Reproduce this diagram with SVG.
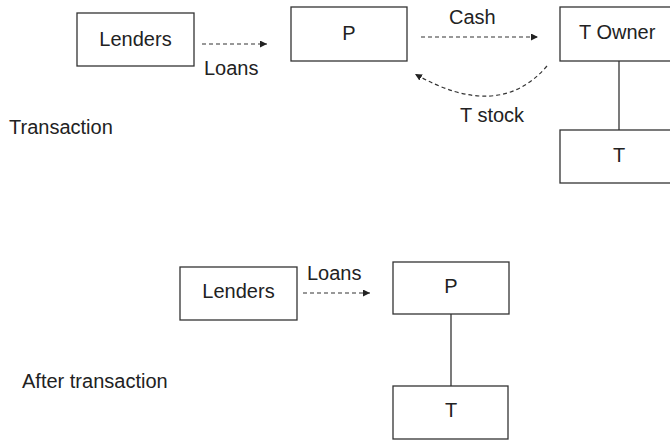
<svg xmlns="http://www.w3.org/2000/svg" width="670" height="440" viewBox="0 0 670 440">
<style>
.box{fill:#fff;stroke:#333;stroke-width:1.3}
.t{font-family:"Liberation Sans",Arial,sans-serif;font-size:20px;fill:#222}
.m{text-anchor:middle}
.dash{fill:none;stroke:#333;stroke-width:1.2;stroke-dasharray:4 3}
.solid{fill:none;stroke:#333;stroke-width:1.3}
</style>
<defs>
<marker id="ah" viewBox="0 0 10 10" refX="10" refY="5" markerWidth="7" markerHeight="7" markerUnits="userSpaceOnUse" orient="auto">
<path d="M0,0 L10,5 L0,10 z" fill="#222"/>
</marker>
</defs>
<rect width="670" height="440" fill="#fff"/>
<g id="connectors">
<line class="dash" x1="202" y1="44" x2="267" y2="44" marker-end="url(#ah)"/>
<line class="dash" x1="421" y1="37" x2="538" y2="37" marker-end="url(#ah)"/>
<path class="dash" d="M547,66 Q499,122 415,74" marker-end="url(#ah)"/>
<line class="solid" x1="619" y1="61" x2="619" y2="130"/>
<line class="dash" x1="303" y1="293" x2="370" y2="293" marker-end="url(#ah)"/>
<line class="solid" x1="451" y1="314" x2="451" y2="386"/>
</g>
<g id="lenders1"><rect class="box" x="77" y="13" width="117" height="53"/><text class="t m" x="135.5" y="46">Lenders</text></g>
<g id="p1"><rect class="box" x="291" y="7" width="116" height="54"/><text class="t m" x="349" y="40">P</text></g>
<g id="towner"><rect class="box" x="560" y="7" width="120" height="54"/><text class="t" x="579" y="39">T Owner</text></g>
<g id="t1"><rect class="box" x="560" y="130" width="120" height="53"/><text class="t m" x="619" y="162">T</text></g>
<g id="lenders2"><rect class="box" x="180" y="267" width="117" height="53"/><text class="t m" x="238.5" y="298">Lenders</text></g>
<g id="p2"><rect class="box" x="393" y="262" width="116" height="52"/><text class="t m" x="451" y="293">P</text></g>
<g id="t2"><rect class="box" x="393" y="386" width="115" height="53"/><text class="t m" x="451" y="417">T</text></g>
<g id="labels">
<text class="t" x="204" y="75">Loans</text>
<text class="t" x="449" y="24">Cash</text>
<text class="t" x="460" y="122">T stock</text>
<text class="t" x="307" y="280">Loans</text>
<text class="t" x="9" y="134">Transaction</text>
<text class="t" x="22" y="388">After transaction</text>
</g>
</svg>
